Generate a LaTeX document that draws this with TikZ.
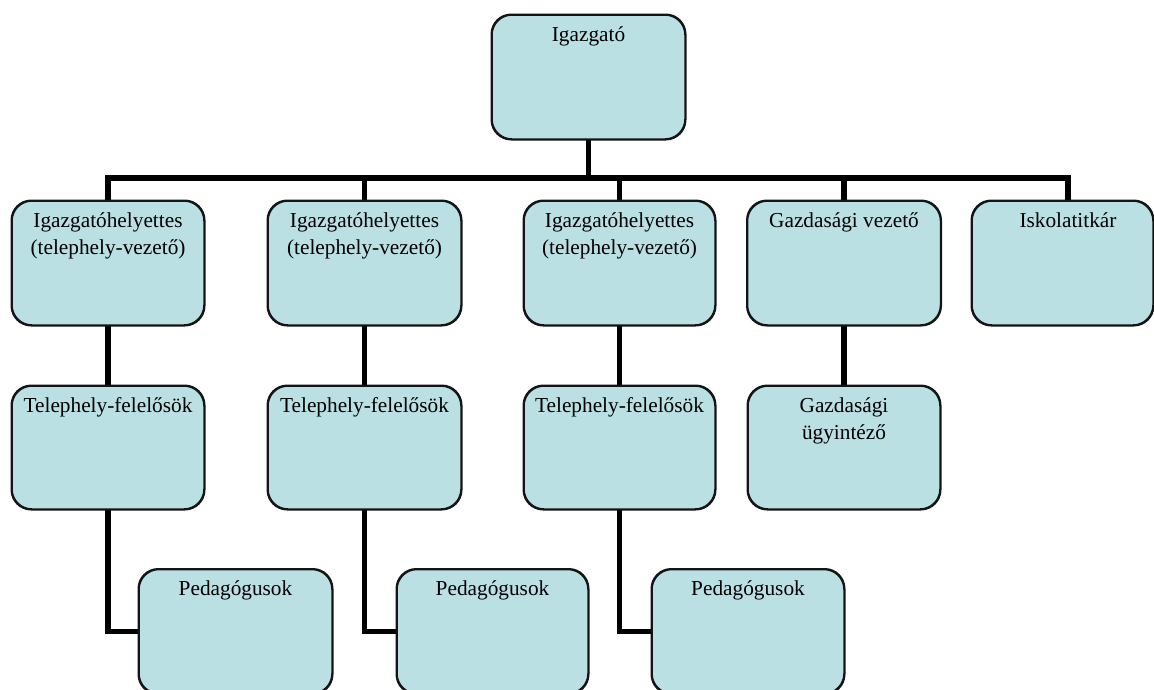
\documentclass[tikz,border=0pt]{standalone}
\usepackage{fontspec}
\setmainfont{Liberation Serif}
\definecolor{boxfill}{RGB}{186,224,228}
\definecolor{boxline}{RGB}{20,20,20}
\begin{document}
\begin{tikzpicture}[x=1pt,y=-1pt,
  box/.style={draw=boxline, line width=1.5pt, fill=boxfill, rounded corners=20pt,
    rectangle, inner sep=0pt, minimum width=193pt, minimum height=124pt},
  boxedge/.style={draw=boxline, line width=1.5pt, rounded corners=20pt},
  lbl/.style={anchor=north, inner sep=0pt, align=center, text=black,
    font=\fontsize{21.3}{26.7}\selectfont},
  conn/.style={draw=black, line width=5.5pt}]
\useasboundingbox (0,0) rectangle (1154,689);
\coordinate (bar) at (588.5,178);
% boxes
\node[box] (top) at (588.5,77) {};
\node[box, minimum width=192pt] (t1) at (108,263) {};
\node[box] (t2) at (364.5,263) {};
\node[box, minimum width=191pt] (t3) at (619.5,263) {};
\node[box] (t4) at (844,263) {};
\node[box, minimum width=181pt] (t5) at (1062.5,263) {};
\node[box, minimum width=192pt, minimum height=123pt] (m1) at (108,447.5) {};
\node[box, minimum width=193pt, minimum height=123pt] (m2) at (364.5,447.5) {};
\node[box, minimum width=191pt, minimum height=123pt] (m3) at (619.5,447.5) {};
\node[box, minimum width=192pt, minimum height=123pt] (m4) at (844,447.5) {};
\node[box] (p1) at (235.5,631.5) {};
\node[box, minimum width=191pt] (p2) at (492.5,631.5) {};
\node[box, minimum width=192pt] (p3) at (748,631.5) {};
\coordinate (c5) at ([xshift=5.5pt]t5.north);
% connectors
\draw[conn] (t1.north) |- (bar) -| (c5);
\draw[conn] (top.south) -- (top.south |- bar);
\draw[conn] (t2.north) -- (t2.north |- bar);
\draw[conn] (t3.north) -- (t3.north |- bar);
\draw[conn] (t4.north) -- (t4.north |- bar);
\draw[conn] (t1.south) -- (m1.north);
\draw[conn] (t2.south) -- (m2.north);
\draw[conn] (t3.south) -- (m3.north);
\draw[conn] (t4.south) -- (m4.north);
\draw[conn] (m1.south) |- (p1.west);
\draw[conn] (m2.south) |- (p2.west);
\draw[conn] (m3.south) |- (p3.west);
% redraw box outlines on top of connector ends
\foreach \n in {top,t1,t2,t3,t4,t5,m1,m2,m3,m4,p1,p2,p3}{
  \draw[boxedge] (\n.north west) rectangle (\n.south east);
}
% labels
\node[lbl] (ltop) at ([yshift=-8.3pt]top.north) {\strut Igazgató};
\node[lbl] (l1) at ([yshift=-8.3pt]t1.north) {\strut Igazgatóhelyettes\\(telephely-vezető)};
\node[lbl] (l2) at ([yshift=-8.3pt]t2.north) {\strut Igazgatóhelyettes\\(telephely-vezető)};
\node[lbl] (l3) at ([yshift=-8.3pt]t3.north) {\strut Igazgatóhelyettes\\(telephely-vezető)};
\node[lbl] (l4) at ([yshift=-8.3pt]t4.north) {\strut Gazdasági vezető};
\node[lbl] (l5) at ([xshift=5.5pt,yshift=-8.3pt]t5.north) {\strut Iskolatitkár};
\node[lbl] (lm1) at ([yshift=-8.3pt]m1.north) {\strut Telephely-felelősök};
\node[lbl] (lm2) at ([yshift=-8.3pt]m2.north) {\strut Telephely-felelősök};
\node[lbl] (lm3) at ([yshift=-8.3pt]m3.north) {\strut Telephely-felelősök};
\node[lbl] (lm4) at ([yshift=-8.3pt]m4.north) {\strut Gazdasági\\ügyintéző};
\node[lbl] (lp1) at ([yshift=-8.3pt]p1.north) {\strut Pedagógusok};
\node[lbl] (lp2) at ([yshift=-8.3pt]p2.north) {\strut Pedagógusok};
\node[lbl] (lp3) at ([yshift=-8.3pt]p3.north) {\strut Pedagógusok};
\end{tikzpicture}
\end{document}
